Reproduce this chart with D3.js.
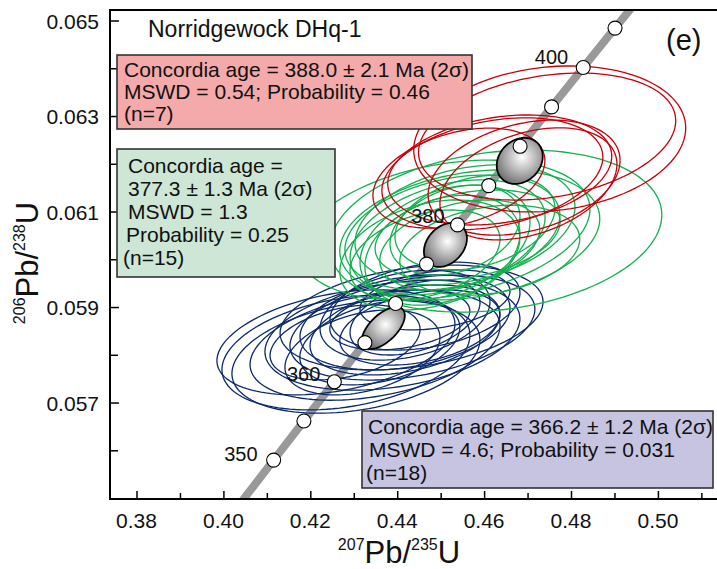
<!DOCTYPE html>
<html>
<head>
<meta charset="utf-8">
<script src="https://cdn.jsdelivr.net/npm/d3@7.9.0/dist/d3.min.js"></script>
<style>
  body { margin: 0; background: #fff; }
  svg { display: block; font-family: "Liberation Sans", Arial, sans-serif; }
</style>
</head>
<body>
<svg id="chart" width="717" height="569"></svg>
<script>
// --- data ---
// concordia curve (age Ma, 207Pb/235U, 206Pb/238U)
const concAges = [340, 345, 350, 355, 360, 365, 370, 375, 380, 385, 390, 395, 400, 405, 410];
const concX = [0.39773, 0.40463, 0.41156, 0.41853, 0.42553, 0.43257, 0.43964, 0.44675, 0.45389, 0.46107, 0.46828, 0.47553, 0.48281, 0.49013, 0.49749];
const concY = [0.054158, 0.054976, 0.055795, 0.056614, 0.057434, 0.058254, 0.059075, 0.059898, 0.060720, 0.061543, 0.062366, 0.063191, 0.064016, 0.064841, 0.065667];
const markerAges = [350, 355, 360, 365, 370, 375, 380, 385, 390, 395, 400, 405];
const labelAges = [350, 360, 380, 400];

// error ellipses: [207/235, s, 206/238, s, rho]
const redEllipses = [
  [0.4751, 0.03130, 0.06252, 0.001529, 0.15],
  [0.4745, 0.02960, 0.06257, 0.001330, 0.25],
  [0.4542, 0.01979, 0.06170, 0.001047, 0.35],
  [0.4619, 0.02543, 0.06179, 0.001173, 0.3],
  [0.4636, 0.02578, 0.06187, 0.001152, 0.25],
  [0.4692, 0.02209, 0.06171, 0.001204, 0.3],
  [0.4702, 0.02037, 0.06158, 0.001173, 0.35]
];
const greenEllipses = [
  [0.4627, 0.03820, 0.06059, 0.001696, 0.2],
  [0.4510, 0.03337, 0.06061, 0.001466, 0.3],
  [0.4567, 0.02992, 0.06051, 0.001361, 0.25],
  [0.4527, 0.02474, 0.06056, 0.001204, 0.3],
  [0.4516, 0.02244, 0.06046, 0.001204, 0.35],
  [0.4556, 0.02532, 0.06072, 0.001256, 0.3],
  [0.4510, 0.01956, 0.06035, 0.001204, 0.35],
  [0.4504, 0.01784, 0.06019, 0.001152, 0.3],
  [0.4562, 0.02129, 0.06051, 0.000942, 0.3],
  [0.4544, 0.01841, 0.06030, 0.000942, 0.35],
  [0.4533, 0.01496, 0.06061, 0.000942, 0.3],
  [0.4475, 0.02071, 0.06009, 0.001152, 0.3],
  [0.4579, 0.01841, 0.06077, 0.000995, 0.3],
  [0.4613, 0.02071, 0.06019, 0.000942, 0.25],
  [0.4464, 0.01726, 0.06009, 0.000942, 0.35]
];
const blueEllipses = [
  [0.4259, 0.02739, 0.05826, 0.001099, 0.35],
  [0.4282, 0.02854, 0.05805, 0.001204, 0.3],
  [0.4305, 0.02854, 0.05796, 0.001183, 0.3],
  [0.4349, 0.02877, 0.05820, 0.001152, 0.35],
  [0.4389, 0.02934, 0.05841, 0.001152, 0.3],
  [0.4433, 0.03026, 0.05878, 0.001099, 0.3],
  [0.4435, 0.02819, 0.05857, 0.001099, 0.35],
  [0.4418, 0.02417, 0.05868, 0.000995, 0.3],
  [0.4418, 0.02186, 0.05852, 0.000942, 0.35],
  [0.4418, 0.01956, 0.05883, 0.000942, 0.3],
  [0.4464, 0.02186, 0.05902, 0.000921, 0.3],
  [0.4452, 0.01841, 0.05857, 0.000785, 0.35],
  [0.4441, 0.01496, 0.05878, 0.000785, 0.4],
  [0.4360, 0.01841, 0.05826, 0.000890, 0.35],
  [0.4320, 0.01784, 0.05805, 0.000890, 0.35],
  [0.4406, 0.01611, 0.05873, 0.000628, 0.3],
  [0.4487, 0.01726, 0.05915, 0.000628, 0.3],
  [0.4280, 0.01726, 0.05826, 0.000785, 0.35]
];
// concordia age ellipses (mean)
const ageEllipses = [
  [0.4682, 0.00529, 0.06206, 0.000482, 0.2],
  [0.4511, 0.00495, 0.06030, 0.000461, 0.3],
  [0.4368, 0.00495, 0.05856, 0.000440, 0.6]
];

const xMajor = [0.38, 0.40, 0.42, 0.44, 0.46, 0.48, 0.50];
const xMinor = [0.39, 0.41, 0.43, 0.45, 0.47, 0.49, 0.51];
const yMajor = [0.057, 0.059, 0.061, 0.063, 0.065];
const yMinor = [0.056, 0.058, 0.060, 0.062, 0.064];

const redText = ['Concordia age = 388.0 \u00b1 2.1 Ma (2\u03c3)', 'MSWD = 0.54; Probability = 0.46', '(n=7)'];
const greenText = ['Concordia age =', '377.3 \u00b1 1.3 Ma (2\u03c3)', 'MSWD = 1.3', 'Probability = 0.25', '(n=15)'];
const blueText = ['Concordia age = 366.2 \u00b1 1.2 Ma (2\u03c3)', 'MSWD = 4.6; Probability = 0.031', '(n=18)'];

// --- setup ---
const svg = d3.select('#chart');
const m = { left: 110, right: 717, top: 10, bottom: 499 };
const x = d3.scaleLinear().domain([0.3739, 0.5136]).range([m.left, m.right]);
const y = d3.scaleLinear().domain([0.05498, 0.06522]).range([m.bottom, m.top]);

const defs = svg.append('defs');
defs.append('clipPath').attr('id', 'plot-clip')
  .append('rect').attr('x', m.left).attr('y', m.top).attr('width', m.right - m.left).attr('height', m.bottom - m.top);
const grad = defs.append('radialGradient').attr('id', 'ball')
  .attr('cx', '0.55').attr('cy', '0.42').attr('r', '0.62');
grad.append('stop').attr('offset', '0%').attr('stop-color', '#ffffff');
grad.append('stop').attr('offset', '100%').attr('stop-color', '#707070');

const plot = svg.append('g').attr('clip-path', 'url(#plot-clip)');

// ellipse path through the scales
const line = d3.line().x((d) => x(d[0])).y((d) => y(d[1]));
function ellipsePoints([cx, sx, cy, sy, rho]) {
  const pts = [];
  const k = Math.sqrt(1 - rho * rho);
  for (let i = 0; i <= 120; i++) {
    const t = (i / 120) * 2 * Math.PI;
    pts.push([cx + sx * Math.cos(t), cy + sy * (rho * Math.cos(t) + k * Math.sin(t))]);
  }
  return pts;
}

// concordia line
const concData = concAges.map((a, i) => [concX[i], concY[i]]);
plot.append('path')
  .attr('d', d3.line().x((d) => x(d[0])).y((d) => y(d[1])).curve(d3.curveMonotoneX)(concData))
  .attr('fill', 'none').attr('stroke', '#999').attr('stroke-width', 8);

// data ellipses
const groups = [
  { data: blueEllipses, color: '#0b2a6b' },
  { data: greenEllipses, color: '#12b04e' },
  { data: redEllipses, color: '#c8000a' }
];
groups.forEach((g) => {
  plot.append('g').selectAll('path').data(g.data).join('path')
    .attr('d', (d) => line(ellipsePoints(d)))
    .attr('fill', 'none').attr('stroke', g.color).attr('stroke-width', 1.3);
});

// age ellipses
plot.append('g').selectAll('path').data(ageEllipses).join('path')
  .attr('d', (d) => line(ellipsePoints(d)) + 'Z')
  .attr('fill', 'url(#ball)').attr('stroke', '#000').attr('stroke-width', 1.8);

// concordia markers
plot.append('g').selectAll('circle').data(markerAges).join('circle')
  .attr('cx', (a) => x(concX[concAges.indexOf(a)]))
  .attr('cy', (a) => y(concY[concAges.indexOf(a)]))
  .attr('r', 7).attr('fill', '#fff').attr('stroke', '#000').attr('stroke-width', 1.1);

const labelOffset = { 350: [-16, 1], 360: [-14, -1], 380: [-13, -2], 400: [-15, -3] };
svg.append('g').selectAll('text').data(labelAges).join('text')
  .attr('x', (a) => x(concX[concAges.indexOf(a)]) + labelOffset[a][0])
  .attr('y', (a) => y(concY[concAges.indexOf(a)]) + labelOffset[a][1])
  .attr('text-anchor', 'end').attr('font-size', 20).attr('fill', '#111')
  .text((a) => a);

// --- axes frame ---
const frame = svg.append('g').attr('stroke', '#000').attr('stroke-width', 2);
frame.append('line').attr('x1', m.left).attr('x2', m.left).attr('y1', m.top - 1).attr('y2', m.bottom + 1);
frame.append('line').attr('x1', m.left).attr('x2', m.right).attr('y1', m.bottom).attr('y2', m.bottom);
frame.append('line').attr('x1', m.left).attr('x2', m.right).attr('y1', m.top).attr('y2', m.top);

svg.append('g').attr('transform', `translate(0,${m.bottom})`)
  .call(d3.axisTop(x).tickValues(xMajor).tickSize(8).tickFormat(''))
  .call((g) => g.select('.domain').remove())
  .call((g) => g.selectAll('line').attr('stroke-width', 1.5));
svg.append('g').attr('transform', `translate(0,${m.bottom})`)
  .call(d3.axisTop(x).tickValues(xMinor).tickSize(6).tickFormat(''))
  .call((g) => g.select('.domain').remove())
  .call((g) => g.selectAll('line').attr('stroke-width', 1.5));
svg.append('g').selectAll('text').data(xMajor).join('text')
  .attr('x', (d) => x(d)).attr('y', 528).attr('text-anchor', 'middle')
  .attr('font-size', 21).attr('fill', '#111').text(d3.format('.2f'));

svg.append('g').attr('transform', `translate(${m.left},0)`)
  .call(d3.axisRight(y).tickValues(yMajor).tickSize(9).tickFormat(''))
  .call((g) => g.select('.domain').remove())
  .call((g) => g.selectAll('line').attr('stroke-width', 1.5));
svg.append('g').attr('transform', `translate(${m.left},0)`)
  .call(d3.axisRight(y).tickValues(yMinor).tickSize(8).tickFormat(''))
  .call((g) => g.select('.domain').remove())
  .call((g) => g.selectAll('line').attr('stroke-width', 1.5));
svg.append('g').selectAll('text').data(yMajor).join('text')
  .attr('x', 99).attr('y', (d) => y(d) + 8).attr('text-anchor', 'end')
  .attr('font-size', 21).attr('fill', '#111').text(d3.format('.3f'));

// axis titles
const xt = svg.append('text').attr('x', 399).attr('y', 563).attr('text-anchor', 'middle').attr('fill', '#111');
xt.append('tspan').attr('font-size', 16).attr('dy', -13).text('207');
xt.append('tspan').attr('font-size', 31).attr('dy', 13).text('Pb/');
xt.append('tspan').attr('font-size', 16).attr('dy', -13).text('235');
xt.append('tspan').attr('font-size', 31).attr('dy', 13).text('U');

const yt = svg.append('text').attr('transform', 'translate(38,263) rotate(-90)')
  .attr('text-anchor', 'middle').attr('fill', '#111');
yt.append('tspan').attr('font-size', 16).attr('dy', -13).text('206');
yt.append('tspan').attr('font-size', 31).attr('dy', 13).text('Pb/');
yt.append('tspan').attr('font-size', 16).attr('dy', -13).text('238');
yt.append('tspan').attr('font-size', 31).attr('dy', 13).text('U');

// title and panel letter
svg.append('text').attr('x', 148).attr('y', 37).attr('font-size', 23).attr('fill', '#111').text('Norridgewock DHq-1');
svg.append('text').attr('x', 666).attr('y', 50).attr('font-size', 29).attr('fill', '#111').text('(e)');

// info boxes
function infoBox(x0, y0, w, h, fill, lines, xs, y1, step) {
  const g = svg.append('g');
  g.append('rect').attr('x', x0).attr('y', y0).attr('width', w).attr('height', h)
    .attr('fill', fill).attr('stroke', '#333').attr('stroke-width', 1.6);
  g.selectAll('text').data(lines).join('text')
    .attr('x', (d, i) => xs[i]).attr('y', (d, i) => y1 + i * step)
    .attr('font-size', 21).attr('fill', '#111').text((d) => d);
}
infoBox(117, 55, 355, 74, '#f4a9aa', redText, [124, 124, 124], 77, 22);
infoBox(117, 149, 218, 128, '#cde6d6', greenText, [128, 128, 128, 126, 123], 173, 23);
infoBox(362, 411, 351, 77, '#c6c4e0', blueText, [368, 369, 366], 434, 23);
</script>
</body>
</html>
